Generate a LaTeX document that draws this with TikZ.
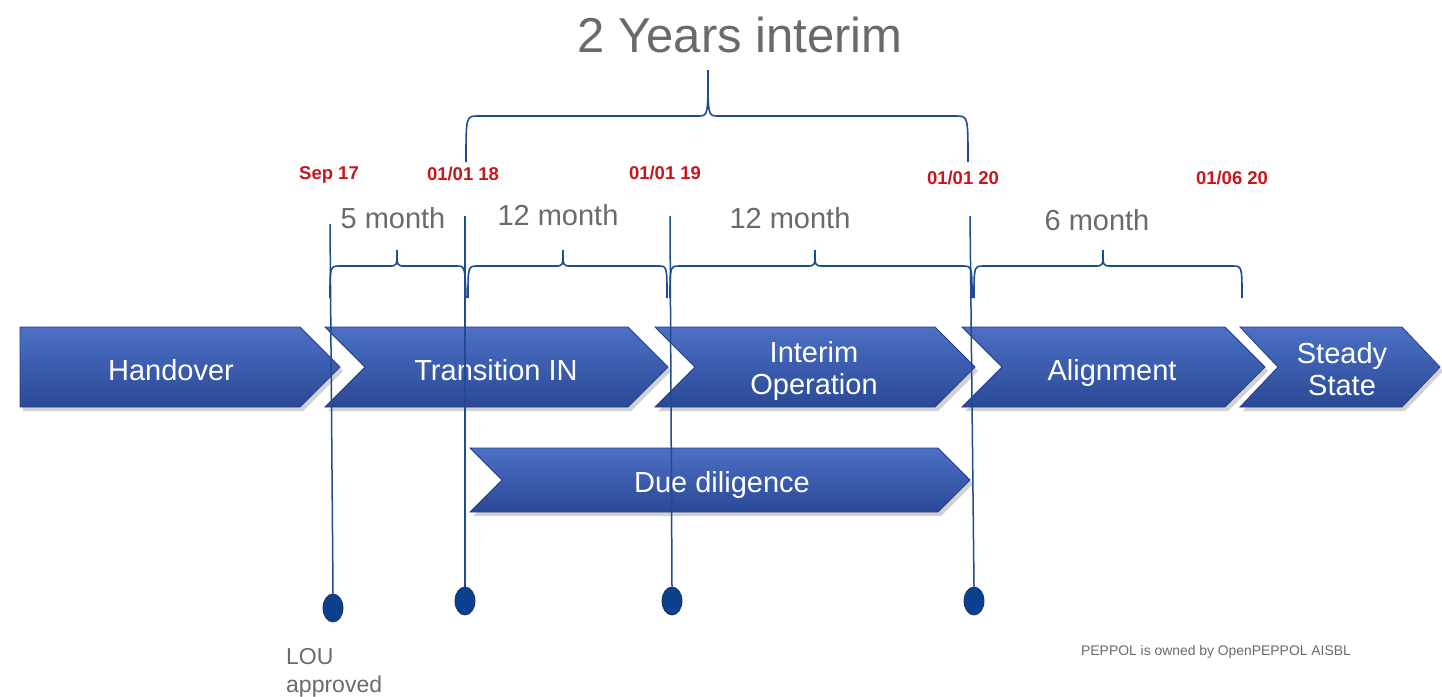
\documentclass[tikz,border=0pt]{standalone}
\usepackage{fontspec}
\setmainfont{Liberation Sans}
\usetikzlibrary{calc,shapes.geometric}
\definecolor{chevtop}{HTML}{4D70C5}
\definecolor{chevbot}{HTML}{2A4896}
\definecolor{chevedge}{HTML}{24408A}
\definecolor{lineblue}{HTML}{1F4B8F}
\definecolor{dotblue}{HTML}{0C3F8E}
\definecolor{datered}{HTML}{C8161D}
\definecolor{txtgray}{HTML}{6A6A6A}
\newcommand\mychevron[6]{% L R T B d notch(1/0)
  \pgfmathsetmacro\cm{(#3+#4)/2}
  \pgfmathsetmacro\rd{#2-#5}
  \pgfmathsetmacro\ld{#1+#5}
  \fill[black,opacity=0.18] ($(#1,#3)+(3,4)$) -- ($(\rd,#3)+(3,4)$) -- ($(#2,\cm)+(3,4)$) -- ($(\rd,#4)+(3,4)$) -- ($(#1,#4)+(3,4)$)
    \ifnum#6=1 -- ($(\ld,\cm)+(3,4)$)\fi -- cycle;
  \path[chev] (#1,#3) -- (\rd,#3) -- (#2,\cm) -- (\rd,#4) -- (#1,#4)
    \ifnum#6=1 -- (\ld,\cm)\fi -- cycle;
}
\tikzset{
  chev/.style={top color=chevtop,bottom color=chevbot,draw=chevedge,line width=0.8pt,line join=miter},
  chevtext/.style={text=white,font=\fontsize{29}{32}\selectfont,align=center,inner sep=0pt},
  datetext/.style={text=datered,font=\bfseries\fontsize{18.5}{21}\selectfont,inner sep=0pt},
  monthtext/.style={text=txtgray,font=\fontsize{29}{32}\selectfont,inner sep=0pt},
  brace/.style={draw=lineblue,line width=1.6pt},
  vline/.style={draw=lineblue,line width=1.5pt},
  dotmark/.style={ellipse,draw=lineblue!70!black,fill=dotblue,line width=0.8pt,minimum width=20pt,minimum height=28pt,inner sep=0pt},
}
\begin{document}
\begin{tikzpicture}[x=1pt,y=-1pt]
\useasboundingbox[fill=white] (0,0) rectangle (1442,696);

% title
\node[text=txtgray,font=\fontsize{49}{54}\selectfont,inner sep=0pt] (title) at (740,35) {2 Years interim};

% big brace
\draw[brace] (466,162) .. controls (466,116) .. (478,116) -- (698,116) .. controls (708,116) .. (708,70)
  .. controls (708,116) .. (718,116) -- (956,116) .. controls (968,116) .. (968,162);

% dates
\node[datetext] (d1) at (329,175) {Sep 17};
\node[datetext] (d2) at (463,174) {01/01 18};
\node[datetext] (d3) at (665,173) {01/01 19};
\node[datetext] (d4) at (963,178) {01/01 20};
\node[datetext] (d5) at (1232,178) {01/06 20};

% month labels
\node[monthtext] (m1) at (393,218) {5 month};
\node[monthtext] (m2) at (558,215) {12 month};
\node[monthtext] (m3) at (790,218) {12 month};
\node[monthtext] (m4) at (1097,220) {6 month};

% small braces
\draw[brace] (330,298) .. controls (330,266) .. (340,266) -- (389,266) .. controls (397,266) .. (397,250)
  .. controls (397,266) .. (405,266) -- (456,266) .. controls (465,266) .. (466,298);
\draw[brace] (468,298) .. controls (468,266) .. (478,266) -- (555,266) .. controls (563,266) .. (563,250)
  .. controls (563,266) .. (571,266) -- (658,266) .. controls (667,266) .. (667,298);
\draw[brace] (670,298) .. controls (670,266) .. (680,266) -- (807,266) .. controls (815,266) .. (815,250)
  .. controls (815,266) .. (823,266) -- (962,266) .. controls (972,266) .. (972,298);
\draw[brace] (974,298) .. controls (974,266) .. (984,266) -- (1095,266) .. controls (1103,266) .. (1103,250)
  .. controls (1103,266) .. (1111,266) -- (1232,266) .. controls (1242,266) .. (1242,298);

% chevrons
\mychevron{20}{340}{327}{407}{40}{0}
\mychevron{325}{668}{327}{407}{40}{1}
\mychevron{655}{975}{327}{407}{40}{1}
\mychevron{962}{1265}{327}{407}{40}{1}
\mychevron{1240}{1440}{327}{407}{38}{1}
\mychevron{470}{970}{448}{512}{32}{1}

\node[chevtext,anchor=base] (handover) at (171,380) {Handover};
\node[chevtext,anchor=base] (transition) at (496,380) {Transition IN};
\node[chevtext] (interim) at (814,371) {Interim\\Operation};
\node[chevtext,anchor=base] (alignment) at (1112,380) {Alignment};
\node[chevtext] (steady) at (1342,369) {Steady\\State};
\node[chevtext,anchor=base] (due) at (722,492) {Due diligence};

% milestones
\node[dotmark] (p1) at (333,608) {};
\node[dotmark] (p2) at (465,601) {};
\node[dotmark] (p3) at (672,601) {};
\node[dotmark] (p4) at (974,601) {};
\coordinate (t1) at (330,224);
\coordinate (t2) at (465,216);
\coordinate (t3) at (670,216);
\coordinate (t4) at (970,216);
\draw[vline] (t1) -- (p1.north);
\draw[vline] (t2) -- (p2.north);
\draw[vline] (t3) -- (p3.north);
\draw[vline] (t4) -- (p4.north);

% bottom texts
\node[text=txtgray,font=\fontsize{23}{28}\selectfont,align=left,anchor=north west,inner sep=0pt] (lou) at (286,648) {LOU\\approved};
\node[text=txtgray,font=\fontsize{13.9}{16}\selectfont,inner sep=0pt] (footer) at (1216,652) {PEPPOL is owned by OpenPEPPOL AISBL};
\end{tikzpicture}
\end{document}
